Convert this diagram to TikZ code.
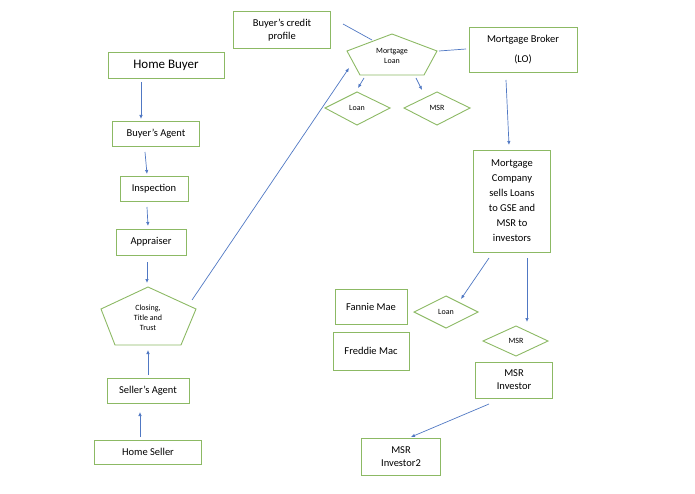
\documentclass[tikz,border=0pt]{standalone}
\usepackage{fontspec}
\setmainfont{Carlito}
\usetikzlibrary{arrows.meta}
\definecolor{bx}{RGB}{140,185,100}
\definecolor{ar}{RGB}{80,120,195}
\begin{document}
\begin{tikzpicture}[x=1pt,y=-1pt,
 box/.style={draw=bx,line width=0.9pt,fill=white,align=center,font=\fontsize{10.5}{13}\selectfont,inner sep=0pt},
 sm/.style={font=\fontsize{8}{10}\selectfont,align=center},
 shp/.style={draw=bx,line width=0.9pt},
 ln/.style={draw=ar,line width=0.7pt},
 arr/.style={ln,-{Latex[length=4pt,width=3.5pt]}}]
\useasboundingbox (0,0) rectangle (695,494);
\node[box,minimum width=116,minimum height=26,font=\fontsize{13}{15}\selectfont] (hb) at (166,65) {Home Buyer};
\node[box,minimum width=87,minimum height=25] (ba) at (156,134) {Buyer’s Agent};
\node[box,minimum width=68,minimum height=25] (in) at (154,189) {Inspection};
\node[box,minimum width=70,minimum height=26] (ap) at (151,242) {Appraiser};
\draw[shp] (148,287)--(196,309)--(181,345)--(115,345)--(101,309)--cycle;
\node[sm] (cl) at (148,318) {Closing,\\Title and\\Trust};
\node[box,minimum width=82,minimum height=25] (sa) at (148,391) {Seller’s Agent};
\node[box,minimum width=107,minimum height=24] (hs) at (148,452) {Home Seller};
\node[box,minimum width=97,minimum height=37] (cp) at (282,30) {Buyer’s credit\\profile};
\draw[shp] (392,34)--(437,51)--(424,75)--(360,75)--(347,51)--cycle;
\node[sm] (ml) at (392,56) {Mortgage\\Loan};
\node[box,minimum width=108,minimum height=45,font=\fontsize{10.5}{20}\selectfont] (mb) at (523,50) {Mortgage Broker\\(LO)};
\draw[shp] (325,108)--(357,92)--(390,108)--(357,125)--cycle;
\node[sm] (l1) at (357,108) {Loan};
\draw[shp] (404,108)--(437,92)--(470,108)--(437,125)--cycle;
\node[sm] (m1) at (437,108) {MSR};
\node[box,minimum width=77,minimum height=102,font=\fontsize{10.5}{15}\selectfont] (mc) at (512,201) {Mortgage\\Company\\sells Loans\\to GSE and\\MSR to\\investors};
\node[box,minimum width=72,minimum height=35] (fm) at (371,307) {Fannie Mae};
\node[box,minimum width=76,minimum height=38] (fd) at (371,351) {Freddie Mac};
\draw[shp] (414,312)--(446,296)--(478,312)--(446,328)--cycle;
\node[sm] (l2) at (446,312) {Loan};
\draw[shp] (483,341)--(516,326)--(548,341)--(516,356)--cycle;
\node[sm] (m2) at (516,341) {MSR};
\node[box,minimum width=77,minimum height=36] (mi) at (514,380) {MSR\\Investor};
\node[box,minimum width=79,minimum height=37] (mi2) at (401,457) {MSR\\Investor2};
% connector end points
\coordinate (hbS) at (141,82);  \coordinate (baN) at (141,119);
\coordinate (baS) at (145,152); \coordinate (inN) at (147,174);
\coordinate (inS) at (147,207); \coordinate (apN) at (148,226);
\coordinate (apS) at (147,262); \coordinate (clN) at (147,283);
\coordinate (saN) at (148,375); \coordinate (clS) at (148,350);
\coordinate (hsN) at (140,437); \coordinate (saS) at (140,412);
\coordinate (clE) at (192,300); \coordinate (mlW) at (349,68);
\coordinate (cpE) at (343,24);  \coordinate (mlT) at (372,40);
\coordinate (mlE) at (439,51);  \coordinate (mbW) at (466,49);
\coordinate (mlB1) at (364,78); \coordinate (l1N) at (358,88);
\coordinate (mlB2) at (416,78); \coordinate (m1N) at (422,90);
\coordinate (mbS) at (506,80);  \coordinate (mcN) at (509,145);
\coordinate (mcS1) at (489,258); \coordinate (l2N) at (461,299);
\coordinate (mcS2) at (527,258); \coordinate (m2N) at (527,322);
\coordinate (miS) at (489,404); \coordinate (mi2N) at (411,437);
\draw[arr] (hbS)--(baN);
\draw[arr] (baS)--(inN);
\draw[arr] (inS)--(apN);
\draw[arr] (apS)--(clN);
\draw[arr] (saN)--(clS);
\draw[arr] (hsN)--(saS);
\draw[arr] (clE)--(mlW);
\draw[ln] (cpE)--(mlT);
\draw[ln] (mlE)--(mbW);
\draw[arr] (mlB1)--(l1N);
\draw[arr] (mlB2)--(m1N);
\draw[arr] (mbS)--(mcN);
\draw[arr] (mcS1)--(l2N);
\draw[arr] (mcS2)--(m2N);
\draw[arr] (miS)--(mi2N);
\end{tikzpicture}
\end{document}
